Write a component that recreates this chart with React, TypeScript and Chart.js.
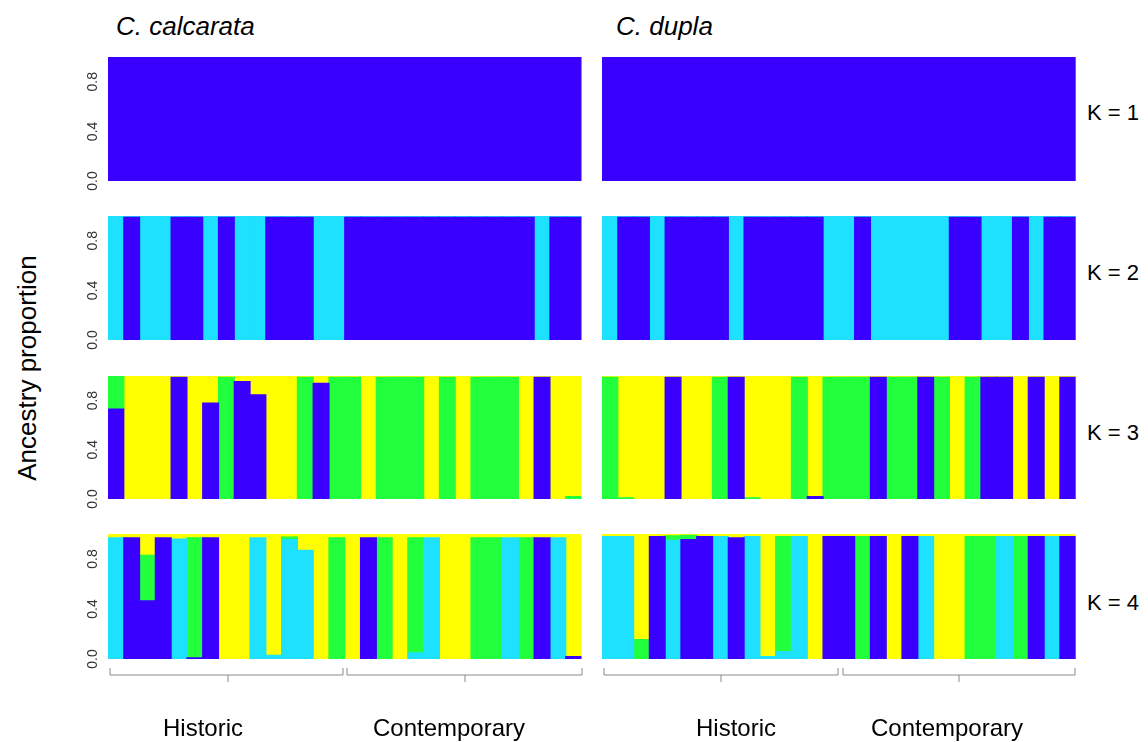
import React, { useEffect, useRef } from "react";
import { Chart, registerables } from "chart.js";
Chart.register(...registerables);

// ---------- data ----------
const individuals = ["1","2","3","4","5","6","7","8","9","10","11","12","13","14","15","16","17","18","19","20","21","22","23","24","25","26","27","28","29","30"];
const yTickValues = [0, 0.4, 0.8];
const yTickLabels = ["0.0", "0.4", "0.8"];
const kLabels = ["K = 1", "K = 2", "K = 3", "K = 4"];
const speciesTitles = ["C. calcarata", "C. dupla"];
const groupLabels = ["Historic", "Contemporary"];

const clusterColors = { blue: "#3a00ff", light: "#1ee1ff", green: "#22ff3c", yellow: "#ffff00" };

// K = 1
const calcK1Blue = [1,1,1,1,1,1,1,1,1,1,1,1,1,1,1,1,1,1,1,1,1,1,1,1,1,1,1,1,1,1];
const duplaK1Blue = [1,1,1,1,1,1,1,1,1,1,1,1,1,1,1,1,1,1,1,1,1,1,1,1,1,1,1,1,1,1];

// K = 2
const calcK2Blue = [0,.99,0,0,.99,.99,0,.99,0,0,.99,.99,.99,0,0,.99,.99,.99,.99,.99,.99,.99,.99,.99,.99,.99,.99,0,.99,.99];
const calcK2Light = [1,.01,1,1,.01,.01,1,.01,1,1,.01,.01,.01,1,1,.01,.01,.01,.01,.01,.01,.01,.01,.01,.01,.01,.01,1,.01,.01];
const duplaK2Blue = [0,.99,.99,0,.99,.99,.99,.99,0,.99,.99,.99,.99,.99,0,0,.99,0,0,0,0,0,.99,.99,0,0,.99,0,.99,.99];
const duplaK2Light = [1,.01,.01,1,.01,.01,.01,.01,1,.01,.01,.01,.01,.01,1,1,.01,1,1,1,1,1,.01,.01,1,1,.01,1,.01,.01];

// K = 3
const calcK3Blue = [.73,0,0,0,.99,0,.78,0,.955,.847,0,0,0,.94,0,0,0,0,0,0,0,0,0,0,0,0,0,.99,0,0];
const calcK3Green = [.27,0,0,0,0,0,0,.99,0,0,0,0,.99,0,.99,.99,0,.99,.99,.99,0,.99,0,.99,.99,.99,0,0,0,.02];
const calcK3Yellow = [0,1,1,1,.01,1,.22,.01,.045,.153,1,1,.01,.06,.01,.01,1,.01,.01,.01,1,.01,1,.01,.01,.01,1,.01,1,.98];
const duplaK3Blue = [0,0,0,0,.99,0,0,0,.99,0,0,0,0,.02,0,0,0,.99,0,0,.99,0,0,0,.99,.99,0,.99,0,.99];
const duplaK3Green = [.99,.01,0,0,0,0,0,.99,0,.01,0,0,.99,0,.99,.99,.99,0,.99,.99,0,.99,0,.99,0,0,0,0,0,0];
const duplaK3Yellow = [.01,.99,1,1,.01,1,1,.01,.01,.99,1,1,.01,.98,.01,.01,.01,.01,.01,.01,.01,.01,1,.01,.01,.01,1,.01,1,.01];

// K = 4
const calcK4Blue = [0,.97,.466,.97,0,.01,.97,0,0,0,0,0,0,0,0,0,.97,0,0,0,0,0,0,0,0,0,0,.97,0,.02];
const calcK4Light = [.97,0,0,0,.96,0,0,0,0,.97,.03,.955,.87,0,0,0,0,0,0,.05,.97,0,0,0,0,.97,0,0,.97,0];
const calcK4Green = [0,0,.364,0,0,.96,0,0,0,0,0,.02,0,0,.97,0,0,.97,0,.92,0,0,0,.97,.97,0,.97,0,0,0];
const calcK4Yellow = [.03,.03,.17,.03,.04,.03,.03,1,1,.03,.97,.025,.13,1,.03,1,.03,.03,1,.03,.03,1,1,.03,.03,.03,.03,.03,.03,.98];
const duplaK4Blue = [0,0,0,.98,0,.955,.98,0,.97,0,0,0,0,0,.98,.98,0,.98,0,.98,0,0,0,0,0,0,0,.98,0,.98];
const duplaK4Light = [.98,.98,0,0,.95,0,0,.98,0,.98,.02,.06,.98,0,0,0,0,0,0,0,.98,0,0,0,0,.98,0,0,.98,0];
const duplaK4Green = [0,0,.155,0,.035,.035,0,0,0,0,0,.92,0,0,0,0,.98,0,0,0,0,0,0,.98,.98,0,.98,0,0,0];
const duplaK4Yellow = [.02,.02,.845,.02,.015,.01,.02,.02,.03,.02,.98,.02,.02,1,.02,.02,.02,.02,1,.02,.02,1,1,.02,.02,.02,.02,.02,.02,.02];

type Series = { name: string; data: number[]; color: string };

const panels: { row: number; col: number; series: Series[] }[] = [
  { row: 0, col: 0, series: [{ name: "blue", data: calcK1Blue, color: clusterColors.blue }] },
  { row: 0, col: 1, series: [{ name: "blue", data: duplaK1Blue, color: clusterColors.blue }] },
  { row: 1, col: 0, series: [
    { name: "blue", data: calcK2Blue, color: clusterColors.blue },
    { name: "light", data: calcK2Light, color: clusterColors.light }] },
  { row: 1, col: 1, series: [
    { name: "blue", data: duplaK2Blue, color: clusterColors.blue },
    { name: "light", data: duplaK2Light, color: clusterColors.light }] },
  { row: 2, col: 0, series: [
    { name: "blue", data: calcK3Blue, color: clusterColors.blue },
    { name: "green", data: calcK3Green, color: clusterColors.green },
    { name: "yellow", data: calcK3Yellow, color: clusterColors.yellow }] },
  { row: 2, col: 1, series: [
    { name: "blue", data: duplaK3Blue, color: clusterColors.blue },
    { name: "green", data: duplaK3Green, color: clusterColors.green },
    { name: "yellow", data: duplaK3Yellow, color: clusterColors.yellow }] },
  { row: 3, col: 0, series: [
    { name: "blue", data: calcK4Blue, color: clusterColors.blue },
    { name: "light", data: calcK4Light, color: clusterColors.light },
    { name: "green", data: calcK4Green, color: clusterColors.green },
    { name: "yellow", data: calcK4Yellow, color: clusterColors.yellow }] },
  { row: 3, col: 1, series: [
    { name: "blue", data: duplaK4Blue, color: clusterColors.blue },
    { name: "light", data: duplaK4Light, color: clusterColors.light },
    { name: "green", data: duplaK4Green, color: clusterColors.green },
    { name: "yellow", data: duplaK4Yellow, color: clusterColors.yellow }] },
];

// ---------- layout ----------
const rowTops = [57, 216, 376, 534];
const rowHeights = [124, 124, 123, 125];
const colLefts = [108.3, 602.3];
const colWidths = [473.5, 473.7];
const kLabelTops = [102, 262, 422, 592];
const FONT = "'Liberation Sans', Arial, Helvetica, sans-serif";

const yLabelPlugin = {
  id: "yLabels",
  afterDraw(chart: any, _args: any, opts: any) {
    if (!opts || !opts.show) return;
    const { ctx, scales } = chart;
    const y = scales.y;
    ctx.save();
    ctx.fillStyle = "#333";
    ctx.font = `14px ${FONT}`;
    ctx.textAlign = "center";
    ctx.textBaseline = "middle";
    yTickValues.forEach((v, i) => {
      const py = y.getPixelForValue(v);
      ctx.save();
      ctx.translate(opts.x, py);
      ctx.rotate(-Math.PI / 2);
      ctx.fillText(yTickLabels[i], 0, 0);
      ctx.restore();
    });
    ctx.restore();
  },
};

function Panel({ row, col, series }: { row: number; col: number; series: Series[] }) {
  const ref = useRef<HTMLCanvasElement>(null);
  const padLeft = col === 0 ? 50 : 0;
  const padV = 12;
  const left = colLefts[col];
  const top = rowTops[row];
  const w = colWidths[col];
  const h = rowHeights[row];
  const canvasW = Math.ceil(w + padLeft) + 2;
  const canvasLeft = left - padLeft;
  useEffect(() => {
    const chart = new Chart(ref.current!, {
      type: "bar",
      data: {
        labels: individuals,
        datasets: series.map((s) => ({
          label: s.name,
          // zero shares are left out so no hairline is drawn for them
          data: s.data.map((v) => (v === 0 ? null : v)),
          backgroundColor: s.color,
          borderWidth: 0,
          inflateAmount: 0.6,
          barPercentage: 1,
          categoryPercentage: 1,
          stack: "a",
        })),
      },
      options: {
        animation: false,
        responsive: false,
        devicePixelRatio: 1,
        layout: { padding: { left: padLeft, right: canvasW - padLeft - w, top: padV, bottom: padV } },
        plugins: {
          legend: { display: false },
          tooltip: { enabled: false },
          yLabels: { show: col === 0, x: 93 - canvasLeft },
        } as any,
        scales: {
          x: { stacked: true, display: false, grid: { display: false } },
          y: { stacked: true, display: false, min: 0, max: 1 },
        },
      },
      plugins: [yLabelPlugin],
    });
    return () => chart.destroy();
  }, []);
  return (
    <canvas
      ref={ref}
      width={canvasW}
      height={h + padV * 2}
      style={{ position: "absolute", left: canvasLeft, top: top - padV, width: canvasW, height: h + padV * 2 }}
    />
  );
}

const brackets = [
  { x1: 110, x2: 343, c: 228 },
  { x1: 347, x2: 582, c: 465 },
  { x1: 604, x2: 838, c: 721 },
  { x1: 843, x2: 1075, c: 959 },
];
const groupLabelCenters = [203, 449, 736, 947];

export default function App() {
  return (
    <div style={{ position: "absolute", left: 0, top: 0, width: 1148, height: 742, background: "#fff", fontFamily: FONT, color: "#000", overflow: "hidden" }}>
      {panels.map((p, i) => (
        <Panel key={i} row={p.row} col={p.col} series={p.series} />
      ))}
      {speciesTitles.map((t, i) => (
        <div key={t} style={{ position: "absolute", left: i === 0 ? 116 : 616, top: 13, fontSize: 26, lineHeight: "26px", fontStyle: "italic", whiteSpace: "nowrap" }}>{t}</div>
      ))}
      {kLabels.map((k, i) => (
        <div key={k} style={{ position: "absolute", left: 1087, top: kLabelTops[i], fontSize: 22, lineHeight: "22px", whiteSpace: "nowrap" }}>{k}</div>
      ))}
      <div style={{ position: "absolute", left: 27 - 150, top: 368 - 13, width: 300, height: 26, fontSize: 26, lineHeight: "26px", textAlign: "center", transform: "rotate(-90deg)", whiteSpace: "nowrap" }}>
        Ancestry proportion
      </div>
      <svg width={1148} height={742} style={{ position: "absolute", left: 0, top: 0, pointerEvents: "none" }}>
        {brackets.map((b, i) => (
          <path key={i} d={`M ${b.x1} 668 L ${b.x1} 675 L ${b.x2} 675 L ${b.x2} 668 M ${b.c} 675 L ${b.c} 682`} stroke="#8a8a8a" strokeWidth={1} fill="none" />
        ))}
      </svg>
      {groupLabelCenters.map((c, i) => (
        <div key={i} style={{ position: "absolute", left: c - 100, width: 200, top: 716, fontSize: 24, lineHeight: "24px", textAlign: "center", whiteSpace: "nowrap" }}>
          {groupLabels[i % 2]}
        </div>
      ))}
    </div>
  );
}
